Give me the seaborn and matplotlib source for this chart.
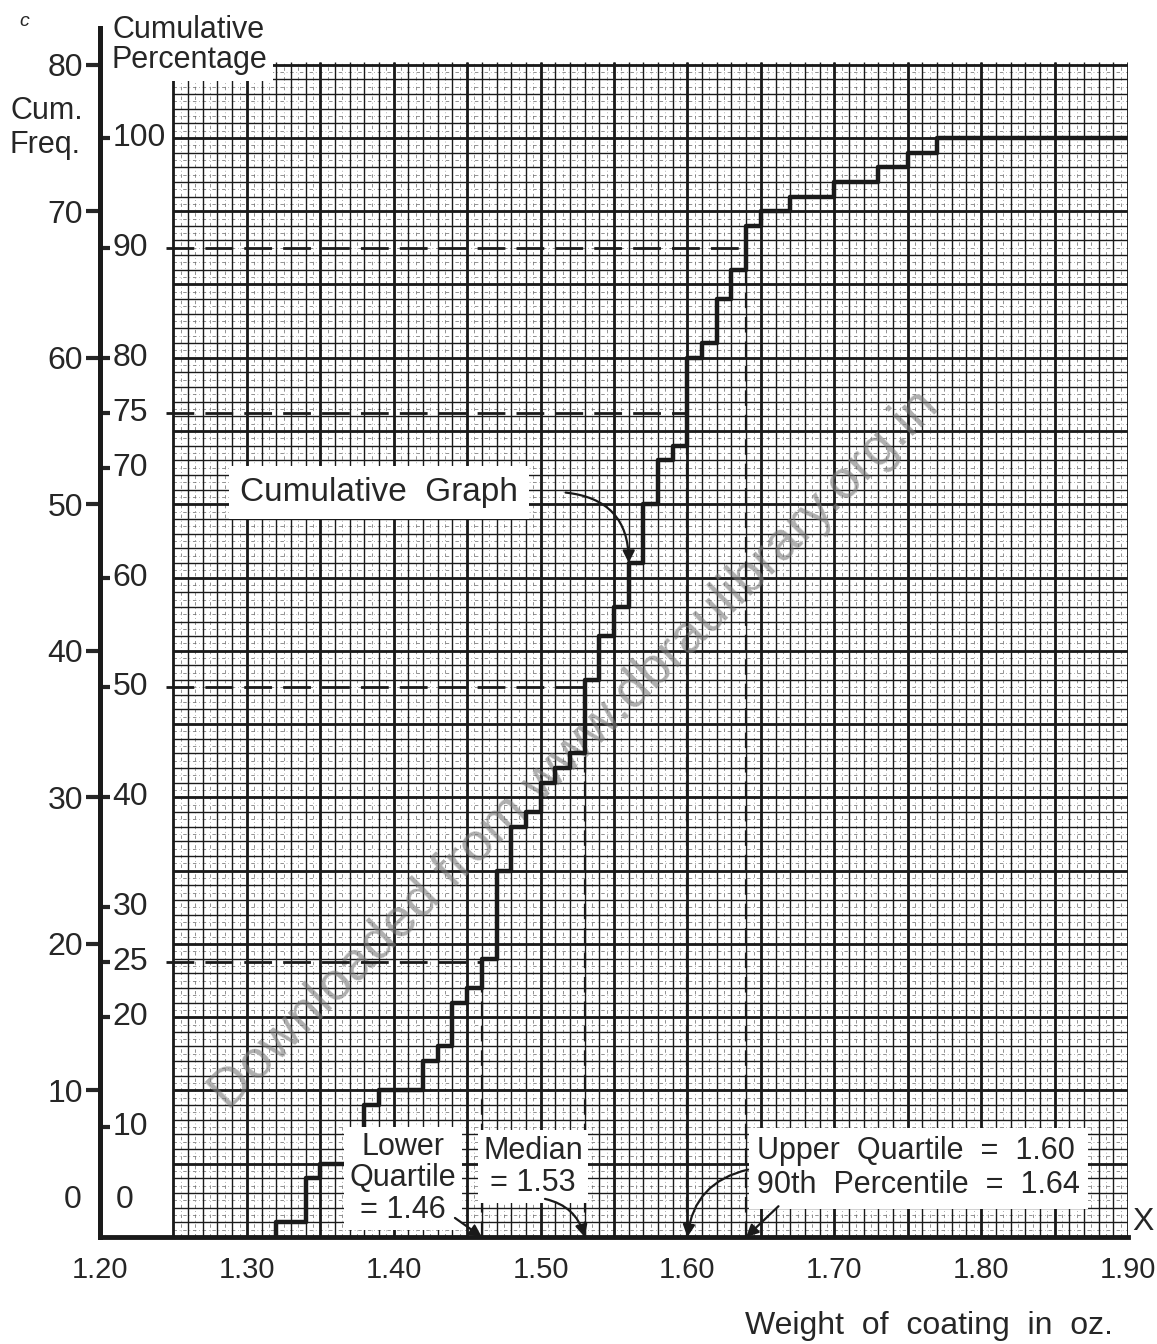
import numpy as np
import pandas as pd
import matplotlib.pyplot as plt
import seaborn as sns

sns.set_theme(style="white")
FAM = ['Liberation Sans Narrow', 'Liberation Sans', 'DejaVu Sans']
plt.rcParams['font.family'] = FAM

# weight of coating (oz) and how many samples share each weight
weight = [1.32, 1.34, 1.35, 1.37, 1.38, 1.39, 1.42, 1.43, 1.44, 1.45, 1.46, 1.47,
          1.48, 1.49, 1.50, 1.51, 1.52, 1.53, 1.54, 1.55, 1.56, 1.57, 1.58, 1.59,
          1.60, 1.61, 1.62, 1.63, 1.64, 1.65, 1.67, 1.70, 1.73, 1.75, 1.77]
count = [1, 3, 1, 1, 3, 1, 2, 1, 3, 1, 2, 6,
         3, 1, 2, 1, 1, 5, 3, 2, 3, 4, 3, 1,
         6, 1, 3, 2, 3, 1, 1, 1, 1, 1, 1]

# read-off percentiles
pct_level = [25, 50, 75, 90]
pct_value = [1.46, 1.53, 1.60, 1.64]

freq_ticks = [10, 20, 30, 40, 50, 60, 70, 80]
pct_ticks = [10, 20, 25, 30, 40, 50, 60, 70, 75, 80, 90, 100]
x_ticks = [1.20, 1.30, 1.40, 1.50, 1.60, 1.70, 1.80, 1.90]

df = pd.DataFrame({'weight': np.repeat(weight, count)})
n = len(df)
cum = np.cumsum(count)

fig = plt.figure(figsize=(11.57, 13.44), dpi=100)
ax = fig.add_axes([100/1157, 107/1344, 1028/1157, 1209/1344])
ax.set_facecolor('white')

# graph paper
gx0, gx1, gtop = 1.25, 1.90, 80.2
fx = np.round(np.arange(gx0, gx1 + 0.0001, 0.01), 3)
fy = np.arange(1, 81)
ax.vlines(fx[:-1] + 0.005, 0, gtop, color='#666', lw=0.5, linestyles=(0, (5, 4, 1, 4)), zorder=1)
ax.hlines(fy - 0.5, gx0, gx1, color='#666', lw=0.5, linestyles=(0, (5, 4, 1, 4)), zorder=1)
ax.vlines(fx, 0, gtop, color='k', lw=1.0, zorder=1)
ax.hlines(fy, gx0, gx1, color='k', lw=1.0, zorder=1)
ax.vlines(fx[::5], 0, gtop, color='k', lw=2.0, zorder=1)
ax.hlines(fy[4::5], gx0, gx1, color='k', lw=2.0, zorder=1)

# watermark
ax.text(1.2 + 475/1468.6, 487/14.65, 'Downloaded from www.dbraulibrary.org.in',
        rotation=44.6, rotation_mode='anchor', ha='center', va='center',
        fontsize=39, color='#7a7a7a', alpha=0.6, family=['Liberation Sans', 'DejaVu Sans'],
        zorder=2)

# cumulative graph
sns.ecdfplot(data=df, x='weight', stat='count', ax=ax, color='k', lw=3.2, zorder=6)
ax.hlines(n, df['weight'].max(), 1.90, color='k', lw=3.2, zorder=6)

# percentile guides
for p, v in zip(pct_level, pct_value):
    c = p * n / 100
    ax.hlines(c, 1.245, v, colors='k', lw=2.0, linestyles=(0, (10, 4)), zorder=5)
    ax.vlines(v, 0, c, colors='k', lw=1.6, linestyles=(0, (7, 4)), zorder=5)

ax.set_xlim(1.20, 1.90)
ax.set_ylim(0, 82.5)
ax.set_xlabel('')
ax.set_ylabel('')

for s in ['top', 'right']:
    ax.spines[s].set_visible(False)
for s in ['left', 'bottom']:
    ax.spines[s].set_linewidth(3.5)
    ax.spines[s].set_color('k')

ax.set_yticks(freq_ticks)
ax.set_yticklabels([str(t) for t in freq_ticks])
ax.tick_params(axis='y', direction='out', length=10, width=3, labelsize=23, pad=2, left=True)
ax.set_xticks(x_ticks)
ax.set_xticklabels([f'{t:.2f}' for t in x_ticks])
ax.tick_params(axis='x', length=0, pad=14, labelsize=21)
ax.text(-0.018, 2.5, '0', transform=ax.get_yaxis_transform(), ha='right', va='center', fontsize=23)

# percentage scale on the same axis
sec = ax.secondary_yaxis('left', functions=(lambda c: c * 100 / n, lambda p: p * n / 100))
sec.set_yticks(pct_ticks)
sec.tick_params(direction='in', length=7, width=3, labelleft=False)
sec.spines['left'].set_linewidth(3.5)
for p in pct_ticks:
    ax.text(0.012, p * n / 100, str(p), transform=ax.get_yaxis_transform(), ha='left', va='center',
            fontsize=23, zorder=7, bbox=dict(facecolor='white', edgecolor='none', pad=1))
ax.text(0.015, 2.5, '0', transform=ax.get_yaxis_transform(), ha='left', va='center',
        fontsize=23, zorder=7, bbox=dict(facecolor='white', edgecolor='none', pad=1))

box = dict(facecolor='white', edgecolor='none', pad=4)
arrow = dict(arrowstyle='-|>', color='k', lw=1.6, mutation_scale=18, shrinkA=0, shrinkB=0)

ax.text(1.2953, 50.8, 'Cumulative  Graph', ha='left', va='center', fontsize=24, zorder=8,
        bbox=dict(facecolor='white', edgecolor='none', pad=8))
ax.annotate('', xy=(weight[20], cum[20]), xytext=(1.517, 50.8),
            arrowprops=dict(arrow, connectionstyle='arc3,rad=-0.45'), zorder=8)

ax.text(1.4063, 4.0, 'Lower\nQuartile\n= 1.46', ha='center', va='center', fontsize=22,
        linespacing=1.05, zorder=8, bbox=box)
ax.annotate('', xy=(pct_value[0], 0), xytext=(1.4417, 1.3), arrowprops=arrow, zorder=8)

ax.text(1.4948, 4.8, 'Median\n= 1.53', ha='center', va='center', fontsize=22,
        linespacing=1.1, zorder=8, bbox=box)
ax.annotate('', xy=(pct_value[1], 0), xytext=(1.503, 2.6),
            arrowprops=dict(arrow, connectionstyle='arc3,rad=-0.3'), zorder=8)

ax.text(1.6474, 4.7, 'Upper  Quartile  =  1.60\n90th  Percentile  =  1.64', ha='left', va='center',
        fontsize=22, linespacing=1.2, zorder=8,
        bbox=dict(facecolor='white', edgecolor='none', pad=6))
ax.annotate('', xy=(pct_value[2], 0), xytext=(1.6413, 4.6),
            arrowprops=dict(arrow, connectionstyle='arc3,rad=0.35'), zorder=8)
ax.annotate('', xy=(pct_value[3], 0), xytext=(1.662, 2.1), arrowprops=arrow, zorder=8)

fig.text(10/1157, 1 - 128/1344, 'Cum.\nFreq.', ha='left', va='center', fontsize=22, linespacing=1.15)
fig.text(112/1157, 1 - 45/1344, 'Cumulative\nPercentage', ha='left', va='center', fontsize=22,
         linespacing=1.0, bbox=dict(facecolor='white', edgecolor='none', pad=4))
fig.text(1143/1157, 1 - 1222/1344, 'X', ha='center', va='center', fontsize=23)
fig.text(24/1157, 1 - 22/1344, 'c', ha='center', va='center', fontsize=14, style='italic')
fig.text(1113/1157, 1 - 1326/1344, 'Weight  of  coating  in  oz.', ha='right', va='center', fontsize=23)

fig.savefig('out.png', dpi=100, facecolor='white')
